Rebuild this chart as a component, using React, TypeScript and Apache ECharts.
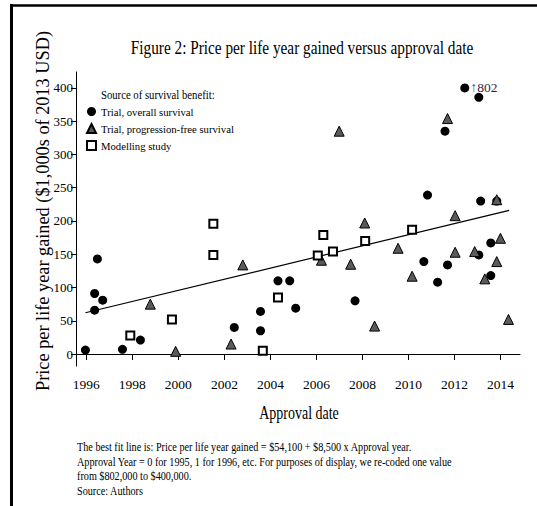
import React, { useEffect, useRef } from "react";
import * as echarts from "echarts";

const xTickLabels = [1996, 1998, 2000, 2002, 2004, 2006, 2008, 2010, 2012, 2014];
const yTickLabels = [0, 50, 100, 150, 200, 250, 300, 350, 400];

// Trial, overall survival (circles)
const overallSurvival: number[][] = [
  [1995.96, 6], [1996.36, 66], [1996.36, 91], [1996.48, 143], [1996.71, 81],
  [1997.57, 7], [1998.35, 21], [2002.43, 40], [2003.57, 64], [2003.57, 35],
  [2004.33, 110], [2004.84, 110], [2005.1, 69], [2007.68, 80], [2010.67, 139],
  [2010.83, 239], [2011.27, 108], [2011.59, 335], [2011.7, 134], [2012.45, 400],
  [2013.06, 386], [2013.14, 230], [2013.06, 149], [2013.58, 167], [2013.58, 118],
  [2013.84, 230],
];

// Trial, progression-free survival (triangles)
const progressionFree: number[][] = [
  [1998.78, 75], [1999.88, 4], [2002.29, 15], [2002.8, 134], [2006.22, 141],
  [2006.99, 335], [2007.49, 135], [2008.1, 197], [2008.53, 42], [2009.55, 159],
  [2010.16, 117], [2011.7, 354], [2012.03, 208], [2012.03, 153], [2012.88, 154],
  [2013.32, 113], [2013.84, 232], [2013.84, 139], [2014.0, 174], [2014.35, 52],
];

// Modelling study (squares)
const modellingStudy: number[][] = [
  [1997.91, 28], [1999.72, 52], [2001.52, 196], [2001.52, 149], [2003.67, 5],
  [2004.33, 85], [2006.06, 148], [2006.3, 179], [2006.72, 154], [2008.12, 170],
  [2010.16, 187],
];

// Best fit line end points
const fitLine: number[][] = [[1995.96, 62], [2014.38, 216]];

const recodedIndex = 19; // point shown at 400, actual 802
const recodedLabel = "802";

const seriesNames = [
  "Trial, overall survival",
  "Trial, progression-free survival",
  "Modelling study",
];
const legendHeading = "Source of survival benefit:";
const titleText = "Figure 2: Price per life year gained versus approval date";
const xAxisTitle = "Approval date";
const yAxisTitle = "Price per life year gained ($1,000s of 2013 USD)";
const footnote = [
  "The best fit line is: Price per life year gained = $54,100 + $8,500 x Approval year.",
  "Approval Year = 0 for 1995, 1 for 1996, etc. For purposes of display, we re-coded one value",
  "from $802,000 to $400,000.",
  "Source: Authors",
];

export default function App() {
  const ref = useRef<HTMLDivElement>(null);
  useEffect(() => {
    const chart = echarts.init(ref.current!, null, { renderer: "svg" });
    const font = "'Liberation Serif', 'Times New Roman', serif";
    const osData = overallSurvival.map((p, i) =>
      i === recodedIndex
        ? {
            value: p,
            label: {
              show: true,
              position: "right",
              distance: 1,
              formatter: "{a|\u2191}{b|" + recodedLabel + "}",
              rich: {
                a: { color: "#5a3d8c", fontSize: 14, fontFamily: font },
                b: { color: "#2a2a44", fontSize: 13.5, fontFamily: font },
              },
            },
          }
        : p
    );
    chart.setOption({
      animation: false,
      backgroundColor: "#fff",
      grid: { left: 76, top: 72, right: 17, bottom: 140 },
      xAxis: {
        type: "value",
        min: 1995.55,
        max: 2014.85,
        splitLine: { show: false },
        axisLine: { show: true, lineStyle: { color: "#000", width: 1 } },
        axisTick: { show: true, length: 6, customValues: xTickLabels, lineStyle: { color: "#000" } },
        axisLabel: {
          customValues: xTickLabels,
          margin: 11,
          color: "#000",
          fontFamily: font,
          fontSize: 13.5,
          formatter: (v: number) => String(Math.round(v)),
        },
      },
      yAxis: {
        type: "value",
        min: -18,
        max: 424,
        splitLine: { show: false },
        axisLine: { show: true, lineStyle: { color: "#000", width: 1 } },
        axisTick: { show: true, length: 5, customValues: yTickLabels, lineStyle: { color: "#000" } },
        axisLabel: {
          customValues: yTickLabels,
          margin: 3,
          color: "#000",
          fontFamily: font,
          fontSize: 13,
          formatter: (v: number) => String(Math.round(v)),
        },
      },
      legend: {
        orient: "vertical",
        left: 86,
        top: 106,
        padding: 0,
        itemWidth: 9,
        itemHeight: 9,
        itemGap: 6,
        selectedMode: false,
        data: seriesNames,
        textStyle: { fontFamily: font, fontSize: 10.7, color: "#000" },
      },
      series: [
        {
          name: "fit",
          type: "line",
          data: fitLine,
          symbol: "none",
          lineStyle: { color: "#000", width: 1.2 },
          silent: true,
          z: 1,
        },
        {
          name: seriesNames[0],
          type: "scatter",
          symbol: "circle",
          symbolSize: 9,
          data: osData,
          itemStyle: { color: "#000", opacity: 1 },
          z: 2,
        },
        {
          name: seriesNames[1],
          type: "scatter",
          symbol: "triangle",
          symbolSize: [10, 10],
          data: progressionFree,
          itemStyle: { color: "#5a5a5a", borderColor: "#000", borderWidth: 1, opacity: 1 },
          z: 3,
        },
        {
          name: seriesNames[2],
          type: "scatter",
          symbol: "rect",
          symbolSize: 8,
          data: modellingStudy,
          itemStyle: { color: "#fff", borderColor: "#000", borderWidth: 2, opacity: 1 },
          z: 4,
        },
      ],
      graphic: [
        { type: "line", shape: { x1: 11.5, y1: 4, x2: 11.5, y2: 506 }, style: { stroke: "#000", lineWidth: 3 } },
        { type: "line", shape: { x1: 10, y1: 5.5, x2: 537, y2: 5.5 }, style: { stroke: "#000", lineWidth: 2.5 } },
        {
          type: "text",
          x: 302,
          y: 48,
          scaleY: 1.25,
          style: { text: titleText, fontFamily: font, fontSize: 15.3, fill: "#000", textAlign: "center", textVerticalAlign: "middle" },
        },
        {
          type: "text",
          x: 101,
          y: 95,
          scaleY: 1.2,
          style: { text: legendHeading, fontFamily: font, fontSize: 10.7, fill: "#000", textAlign: "left", textVerticalAlign: "middle" },
        },
        {
          type: "text",
          x: 299,
          y: 413,
          scaleY: 1.3,
          style: { text: xAxisTitle, fontFamily: font, fontSize: 14, fill: "#000", textAlign: "center", textVerticalAlign: "middle" },
        },
        {
          type: "text",
          x: 43,
          y: 211,
          rotation: Math.PI / 2,
          style: { text: yAxisTitle, fontFamily: font, fontSize: 18.3, fill: "#000", textAlign: "center", textVerticalAlign: "middle" },
        },
        {
          type: "text",
          x: 77,
          y: 439,
          scaleY: 1.3,
          style: { text: footnote.join("\n"), fontFamily: font, fontSize: 10.2, lineHeight: 11.3, fill: "#000", textAlign: "left", textVerticalAlign: "top" },
        },
      ],
    });
    return () => chart.dispose();
  }, []);
  return (
    <div
      ref={ref}
      style={{ position: "fixed", left: 0, top: 0, width: 537, height: 506, background: "#fff" }}
    />
  );
}
